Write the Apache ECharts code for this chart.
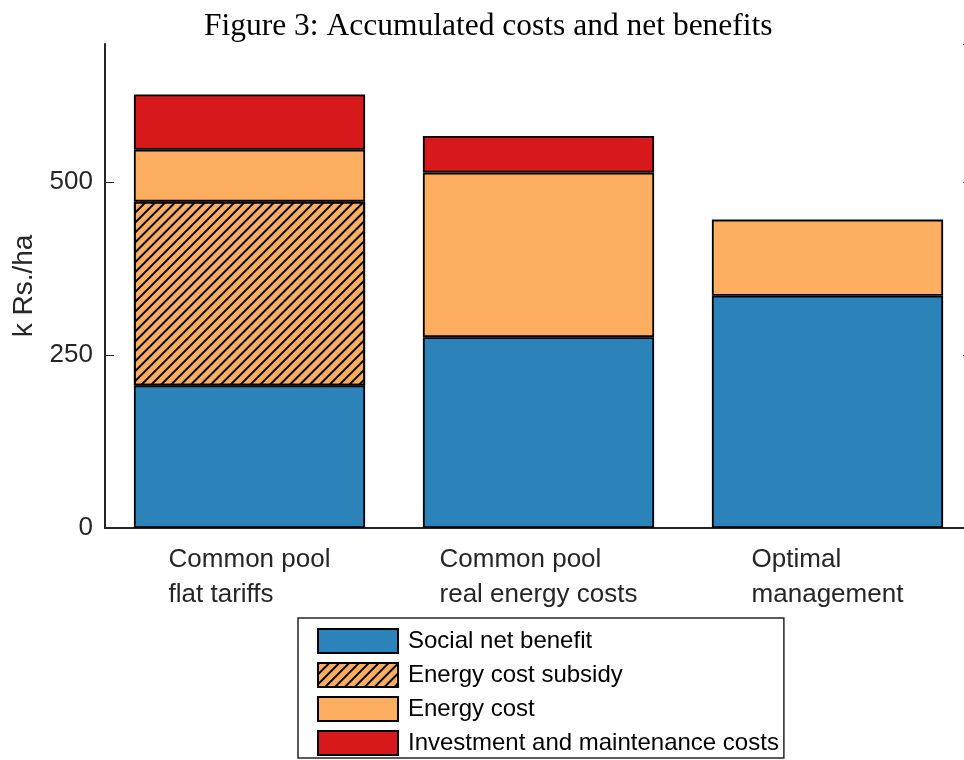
<!DOCTYPE html>
<html>
<head>
<meta charset="utf-8">
<script src="https://cdn.jsdelivr.net/npm/echarts@6/dist/echarts.min.js"></script>
<style>
  html, body { margin: 0; padding: 0; background: #fff; }
  #chart { width: 964px; height: 760px; }
</style>
</head>
<body>
<div id="chart"></div>
<script>
  // categories and stacked values (k Rs./ha)
  const categories = ['Common pool\nflat tariffs', 'Common pool\nreal energy costs', 'Optimal\nmanagement'];
  const socialNetBenefit = [206, 276, 336];
  const energySubsidy = [266, '-', '-'];
  const energyCost = [75, 238, 110];
  const investCost = [80, 53, '-'];
  const yTicks = { min: 0, max: 700, interval: 250 };

  const sans = "'Liberation Sans', Arial, sans-serif";
  const axisColor = '#262626';

  let myChart = echarts.init(document.getElementById('chart'));

  function seg(name, color, data, extra) {
    return {
      name: name,
      type: 'bar',
      stack: 'total',
      barWidth: '80%',
      data: data,
      itemStyle: Object.assign({
        color: color,
        borderColor: '#000',
        borderWidth: 1.8
      }, extra || {})
    };
  }

  myChart.setOption({
    backgroundColor: '#fff',
    animation: false,
    title: {
      text: 'Figure 3: Accumulated costs and net benefits',
      left: 199,
      top: 6,
      textStyle: {
        fontFamily: "'Liberation Serif', 'Times New Roman', serif",
        fontWeight: 'normal',
        fontSize: 31.5,
        color: '#000'
      }
    },
    grid: {
      left: 105,
      width: 867,
      top: 44,
      bottom: 232,
      outerBoundsMode: 'none'
    },
    legend: {
      orient: 'vertical',
      left: 298,
      top: 618,
      height: 200,
      itemWidth: 80,
      itemHeight: 24,
      itemGap: 8,
      padding: [10, 5, 2, 19],
      borderColor: axisColor,
      borderWidth: 1.5,
      icon: 'rect',
      textStyle: {
        fontFamily: sans,
        fontSize: 24,
        lineHeight: 24,
        color: '#000',
        padding: [0, 0, 0, 5]
      }
    },
    xAxis: [{
      type: 'category',
      position: 'bottom',
      data: categories,
      axisLine: { lineStyle: { color: axisColor, width: 2 } },
      axisTick: { inside: true, length: 9, alignWithLabel: true, lineStyle: { color: axisColor } },
      axisLabel: {
        margin: 14,
        formatter: function (v) {
          return v.split('\n').map(function (s) { return '{a|' + s + '}'; }).join('\n');
        },
        rich: {
          a: {
            align: 'left',
            fontFamily: sans,
            fontSize: 26,
            lineHeight: 35,
            color: axisColor
          }
        }
      }
    }, {
      type: 'category',
      position: 'top',
      data: categories,
      axisLine: { lineStyle: { color: axisColor, width: 2 } },
      axisTick: { inside: true, length: 9, alignWithLabel: true, lineStyle: { color: axisColor } },
      axisLabel: { show: false }
    }],
    yAxis: [{
      type: 'value',
      position: 'left',
      min: yTicks.min,
      max: yTicks.max,
      interval: yTicks.interval,
      name: 'k Rs./ha',
      nameLocation: 'middle',
      nameRotate: 90,
      nameGap: 63,
      nameTextStyle: { fontFamily: sans, fontSize: 28, color: axisColor },
      splitLine: { show: false },
      axisLine: { show: true, lineStyle: { color: axisColor, width: 2 } },
      axisTick: { show: true, inside: true, length: 9, lineStyle: { color: axisColor } },
      axisLabel: {
        showMaxLabel: false,
        margin: 12,
        fontFamily: sans,
        fontSize: 26,
        color: axisColor
      }
    }, {
      type: 'value',
      position: 'right',
      min: yTicks.min,
      max: yTicks.max,
      interval: yTicks.interval,
      splitLine: { show: false },
      axisLine: { show: true, lineStyle: { color: axisColor, width: 2 } },
      axisTick: { show: true, inside: true, length: 9, lineStyle: { color: axisColor } },
      axisLabel: { show: false }
    }],
    series: [
      seg('Social net benefit', '#2C83BA', socialNetBenefit),
      seg('Energy cost subsidy', '#FDAE61', energySubsidy, {
        decal: {
          symbol: 'rect',
          symbolSize: 1,
          color: '#000',
          dashArrayX: [1, 0],
          dashArrayY: [2, 5],
          rotation: -Math.PI / 4
        }
      }),
      seg('Energy cost', '#FDAE61', energyCost),
      seg('Investment and maintenance costs', '#D7191C', investCost)
    ]
  });
</script>
</body>
</html>
